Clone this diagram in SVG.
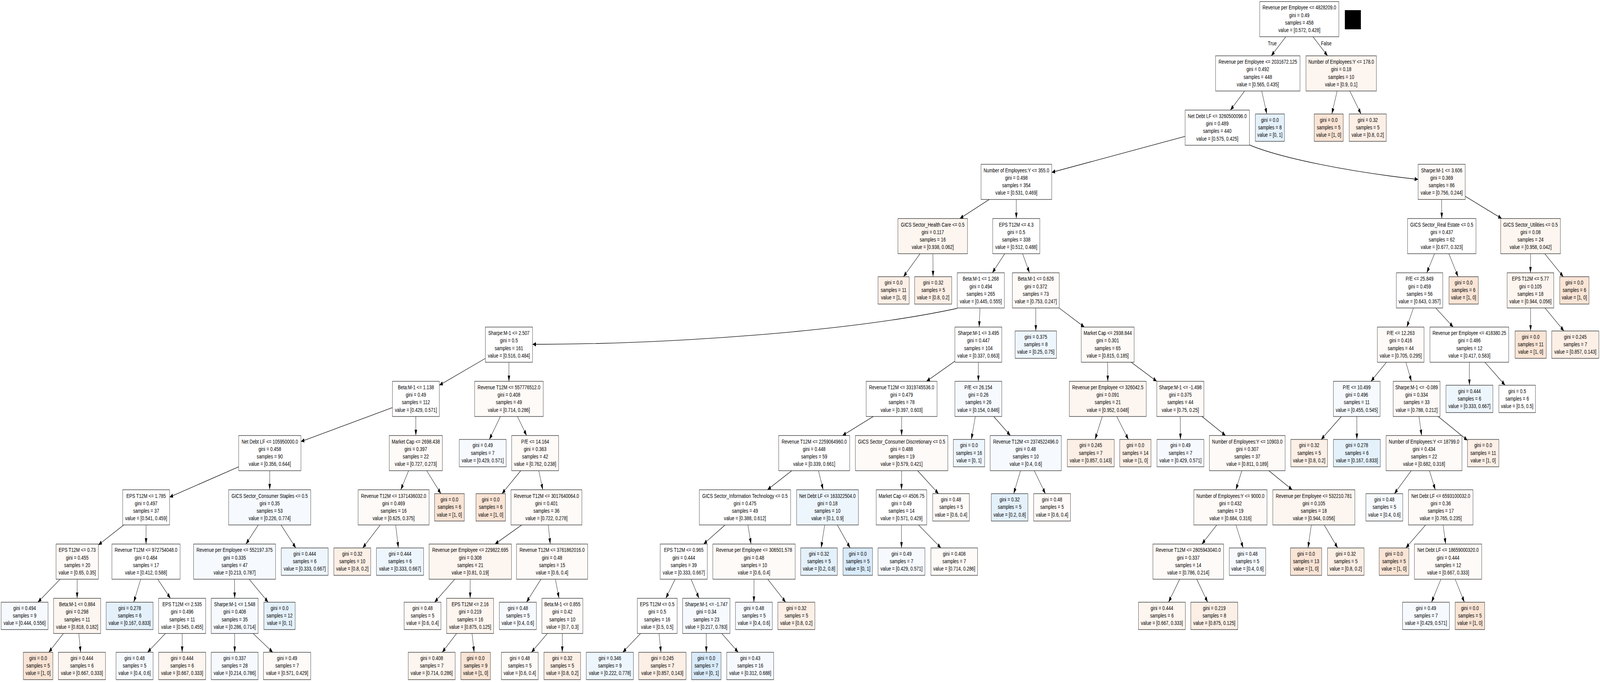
<svg xmlns="http://www.w3.org/2000/svg" width="6992" height="1745" viewBox="0 0 6992 1745" preserveAspectRatio="none" style="width:100%;height:100%">
<defs>
<style>
.n rect{stroke:#3a3a3a;stroke-width:1.4}
text{font-family:"Liberation Sans",Arial,Helvetica,sans-serif;font-size:15px;text-anchor:middle;fill:#000}
.w{fill:#ffffff}.o1{fill:#fefaf7}.o2{fill:#fdf5ef}.o3{fill:#fcefe6}.o4{fill:#f9e4d5}.b1{fill:#f6fafe}.b2{fill:#eef6fd}.b3{fill:#e4f1fb}.b4{fill:#d9ebfa}
#edges path{fill:none;stroke:#000;stroke-width:1.3;marker-end:url(#ah)}
</style>
<marker id="ah" viewBox="0 0 15 11" refX="15" refY="5.5" markerWidth="15" markerHeight="11" orient="auto" markerUnits="userSpaceOnUse"><path d="M0,0 L15,5.5 L0,11 z" fill="#000"/></marker>
</defs>
<rect x="0" y="0" width="6992" height="1745" fill="#ffffff"/>
<rect id="redaction" x="5877" y="26" width="70" height="49" fill="#000"/>

<g id="edges">
<path d="M5619.2,94 L5555.3,142.8"/>
<path d="M5737.3,94 L5801.7,142.8"/>
<path d="M5439.1,232.8 L5376.9,281.6"/>
<path d="M5513.7,232.8 L5536.1,291.6"/>
<path d="M5843.3,232.8 L5820.2,291.6"/>
<path d="M5898.6,232.8 L5947.7,291.6"/>
<path d="M5179,348.8 L4596,441"/>
<path d="M5460,371 C5600,405 5900,440 6197,459"/>
<path d="M4323,510.4 L4194.5,559.2"/>
<path d="M4441.3,510.4 L4441.2,559.2"/>
<path d="M6300,510.4 L6300.5,559.2"/>
<path d="M6403,502.2 L6562.5,559.2"/>
<path d="M4020.6,649.2 L3948.1,708"/>
<path d="M4076.6,649.2 L4077.5,708"/>
<path d="M4390.7,649.2 L4336.3,698"/>
<path d="M4468.7,649.2 L4498.8,698"/>
<path d="M6269.1,649.2 L6234.9,698"/>
<path d="M6331.5,649.2 L6371.9,708"/>
<path d="M6688.5,649.2 L6688,698"/>
<path d="M6750.6,649.2 L6831.7,708"/>
<path d="M4183,789 C3700,850 2900,881 2327,881"/>
<path d="M4282.6,788 L4278.9,836.8"/>
<path d="M4526.5,788 L4526.5,846.8"/>
<path d="M4628.3,788 L4738.7,836.8"/>
<path d="M6176.8,788 L6147.7,836.8"/>
<path d="M6274,788 L6350.5,836.8"/>
<path d="M6688.3,788 L6688.7,846.8"/>
<path d="M6751.5,788 L6834.6,846.8"/>
<path d="M2121,917 L1920,985.6"/>
<path d="M2224,926.8 L2224,975.6"/>
<path d="M4173,924.2 L4048.8,975.6"/>
<path d="M4275.5,926.8 L4275.5,975.6"/>
<path d="M4840.6,926.8 L4840.9,975.6"/>
<path d="M4943.4,926.8 L5055.1,975.6"/>
<path d="M6058.8,926.8 L5991.2,975.6"/>
<path d="M6143.5,926.8 L6168,975.6"/>
<path d="M6421,926.8 L6421.4,985.6"/>
<path d="M6488.8,926.8 L6577.3,985.6"/>
<path d="M1715,1042.9 L1315,1129.8"/>
<path d="M1817.3,1065.6 L1817.2,1114.4"/>
<path d="M2186.9,1065.6 L2138.4,1124.4"/>
<path d="M2261.1,1065.6 L2301.4,1114.4"/>
<path d="M3816.2,1065.6 L3681.8,1114.4"/>
<path d="M3940,1065.6 L3940,1114.4"/>
<path d="M4262.2,1065.6 L4244.8,1124.4"/>
<path d="M4342.6,1065.6 L4415.4,1114.4"/>
<path d="M4816.8,1065.6 L4785.3,1124.4"/>
<path d="M4880.1,1065.6 L4931.1,1124.4"/>
<path d="M5158,1065.6 L5158.5,1124.4"/>
<path d="M5252.8,1065.6 L5355.7,1114.4"/>
<path d="M5861.6,1065.6 L5773.5,1124.4"/>
<path d="M5929,1065.6 L5929.5,1124.4"/>
<path d="M6201,1065.6 L6212.5,1114.4"/>
<path d="M6284.8,1065.6 L6413,1126.7"/>
<path d="M1043,1194.3 L741,1271.9"/>
<path d="M1179,1204.4 L1178.5,1253.2"/>
<path d="M1785.6,1204.4 L1751.4,1253.2"/>
<path d="M1864.7,1204.4 L1926.9,1263.2"/>
<path d="M2275.6,1204.4 L2193.4,1263.2"/>
<path d="M2354.5,1204.4 L2372,1253.2"/>
<path d="M3459.9,1204.4 L3353.6,1253.2"/>
<path d="M3576.8,1204.4 L3597.2,1253.2"/>
<path d="M3940,1204.4 L3939.5,1253.2"/>
<path d="M4010,1204.4 L4101.5,1263.2"/>
<path d="M4459.6,1204.4 L4429.8,1263.2"/>
<path d="M4519.8,1204.4 L4568.5,1263.2"/>
<path d="M5426.7,1204.4 L5400.8,1253.2"/>
<path d="M5544.8,1204.4 L5647.2,1253.2"/>
<path d="M6166.8,1204.4 L6093.3,1263.2"/>
<path d="M6246.7,1204.4 L6272.3,1253.2"/>
<path d="M540.9,1343.2 L430,1394.3"/>
<path d="M638.3,1343.2 L638.2,1392"/>
<path d="M1128.7,1343.2 L1074.8,1392"/>
<path d="M1228.1,1343.2 L1292.9,1402"/>
<path d="M1661.5,1343.2 L1585,1402"/>
<path d="M1729.1,1343.2 L1740.9,1402"/>
<path d="M2280,1343.2 L2163,1392"/>
<path d="M2395.9,1343.2 L2404.6,1392"/>
<path d="M3168.8,1343.2 L3074.7,1392"/>
<path d="M3268.3,1343.2 L3282.2,1392"/>
<path d="M3604,1343.2 L3588.3,1402"/>
<path d="M3659,1343.2 L3715.1,1402"/>
<path d="M3939.5,1343.2 L3939.5,1402"/>
<path d="M4014.2,1343.2 L4111.9,1402"/>
<path d="M5317.2,1343.2 L5252.3,1392"/>
<path d="M5401.2,1343.2 L5432.7,1402"/>
<path d="M5730.5,1343.2 L5716.1,1402"/>
<path d="M5786.7,1343.2 L5845.8,1402"/>
<path d="M6229.9,1343.2 L6143.4,1402"/>
<path d="M6306.4,1343.2 L6317.6,1392"/>
<path d="M262.9,1482 L165.5,1540.8"/>
<path d="M337.5,1482 L337,1530.8"/>
<path d="M614.8,1482 L584.5,1540.8"/>
<path d="M689.2,1482 L744.8,1530.8"/>
<path d="M1025,1482 L1025.5,1530.8"/>
<path d="M1088.7,1482 L1171.9,1540.8"/>
<path d="M1987.4,1482 L1899.1,1540.8"/>
<path d="M2055,1482 L2054.5,1530.8"/>
<path d="M2364,1482 L2300.7,1540.8"/>
<path d="M2427.1,1482 L2442.9,1530.8"/>
<path d="M2950.4,1482 L2909.6,1530.8"/>
<path d="M3019.9,1482 L3054.6,1530.8"/>
<path d="M3295,1482 L3294.5,1540.8"/>
<path d="M3355,1482 L3433.3,1540.8"/>
<path d="M5155.2,1482 L5106.5,1540.8"/>
<path d="M5229.5,1482 L5277.7,1540.8"/>
<path d="M6296.7,1482 L6255.8,1540.8"/>
<path d="M6359,1482 L6399.4,1540.8"/>
<path d="M277.2,1620.8 L213,1669"/>
<path d="M344.4,1620.8 L352.3,1669"/>
<path d="M723,1620.8 L644.8,1669"/>
<path d="M796,1620.8 L796,1669"/>
<path d="M1025.5,1620.8 L1025.5,1669"/>
<path d="M1105.9,1620.8 L1192,1669"/>
<path d="M1995.5,1620.8 L1932.4,1669"/>
<path d="M2062.9,1620.8 L2071.9,1669"/>
<path d="M2392.2,1620.8 L2322.3,1669"/>
<path d="M2457.5,1620.8 L2457,1669"/>
<path d="M2799.3,1620.8 L2721.5,1669"/>
<path d="M2879.9,1620.8 L2888.4,1669"/>
<path d="M3086.5,1620.8 L3086.5,1669"/>
<path d="M3153.9,1620.8 L3226.1,1669"/>
</g>
<g id="edge-labels">
<text transform="matrix(1.27 0 0 1 5560 0)" x="0" y="116">True</text>
<text transform="matrix(1.27 0 0 1 5796 0)" x="0" y="116">False</text>
</g>

<g id="n0" class="n"><rect class="w" x="5505" y="4" width="346" height="90"/><text transform="matrix(1.27 0 0 1 5678 0)"><tspan x="0" y="24.5">Revenue per Employee &lt;= 4828209.0</tspan><tspan x="0" dy="19.2">gini = 0.49</tspan><tspan x="0" dy="19.2">samples = 458</tspan><tspan x="0" dy="19.2">value = [0.572, 0.428]</tspan></text></g>
<g id="n1" class="n"><rect class="w" x="5312" y="142.8" width="369" height="90"/><text transform="matrix(1.27 0 0 1 5496.5 0)"><tspan x="0" y="163.3">Revenue per Employee &lt;= 2031672.125</tspan><tspan x="0" dy="19.2">gini = 0.492</tspan><tspan x="0" dy="19.2">samples = 448</tspan><tspan x="0" dy="19.2">value = [0.565, 0.435]</tspan></text></g>
<g id="n2" class="n"><rect class="o2" x="5707" y="142.8" width="308" height="90"/><text transform="matrix(1.27 0 0 1 5861 0)"><tspan x="0" y="163.3">Number of Employees:Y &lt;= 178.0</tspan><tspan x="0" dy="19.2">gini = 0.18</tspan><tspan x="0" dy="19.2">samples = 10</tspan><tspan x="0" dy="19.2">value = [0.9, 0.1]</tspan></text></g>
<g id="n3" class="n"><rect class="w" x="5179" y="281.6" width="281" height="90"/><text transform="matrix(1.27 0 0 1 5319.5 0)"><tspan x="0" y="302.1">Net Debt LF &lt;= 3260500096.0</tspan><tspan x="0" dy="19.2">gini = 0.489</tspan><tspan x="0" dy="19.2">samples = 440</tspan><tspan x="0" dy="19.2">value = [0.575, 0.425]</tspan></text></g>
<g id="n4" class="n"><rect class="b3" x="5486" y="291.6" width="127" height="70"/><text transform="matrix(1.27 0 0 1 5549.5 0)"><tspan x="0" y="311.6">gini = 0.0</tspan><tspan x="0" dy="19.2">samples = 8</tspan><tspan x="0" dy="19.2">value = [0, 1]</tspan></text></g>
<g id="n5" class="n"><rect class="o4" x="5743" y="291.6" width="127" height="70"/><text transform="matrix(1.27 0 0 1 5806.5 0)"><tspan x="0" y="311.6">gini = 0.0</tspan><tspan x="0" dy="19.2">samples = 5</tspan><tspan x="0" dy="19.2">value = [1, 0]</tspan></text></g>
<g id="n6" class="n"><rect class="o3" x="5896" y="291.6" width="162" height="70"/><text transform="matrix(1.27 0 0 1 5977 0)"><tspan x="0" y="311.6">gini = 0.32</tspan><tspan x="0" dy="19.2">samples = 5</tspan><tspan x="0" dy="19.2">value = [0.8, 0.2]</tspan></text></g>
<g id="n7" class="n"><rect class="w" x="4287" y="420.4" width="309" height="90"/><text transform="matrix(1.27 0 0 1 4441.5 0)"><tspan x="0" y="440.9">Number of Employees:Y &lt;= 355.0</tspan><tspan x="0" dy="19.2">gini = 0.498</tspan><tspan x="0" dy="19.2">samples = 354</tspan><tspan x="0" dy="19.2">value = [0.531, 0.469]</tspan></text></g>
<g id="n8" class="n"><rect class="o1" x="6197" y="420.4" width="206" height="90"/><text transform="matrix(1.27 0 0 1 6300 0)"><tspan x="0" y="440.9">Sharpe:M-1 &lt;= 3.606</tspan><tspan x="0" dy="19.2">gini = 0.369</tspan><tspan x="0" dy="19.2">samples = 86</tspan><tspan x="0" dy="19.2">value = [0.756, 0.244]</tspan></text></g>
<g id="n9" class="n"><rect class="o2" x="3924" y="559.2" width="304" height="90"/><text transform="matrix(1.27 0 0 1 4076 0)"><tspan x="0" y="579.7">GICS Sector_Health Care &lt;= 0.5</tspan><tspan x="0" dy="19.2">gini = 0.117</tspan><tspan x="0" dy="19.2">samples = 16</tspan><tspan x="0" dy="19.2">value = [0.938, 0.062]</tspan></text></g>
<g id="n10" class="n"><rect class="w" x="4338" y="559.2" width="206" height="90"/><text transform="matrix(1.27 0 0 1 4441 0)"><tspan x="0" y="579.7">EPS T12M &lt;= 4.3</tspan><tspan x="0" dy="19.2">gini = 0.5</tspan><tspan x="0" dy="19.2">samples = 338</tspan><tspan x="0" dy="19.2">value = [0.512, 0.488]</tspan></text></g>
<g id="n11" class="n"><rect class="w" x="6151" y="559.2" width="299" height="90"/><text transform="matrix(1.27 0 0 1 6300.5 0)"><tspan x="0" y="579.7">GICS Sector_Real Estate &lt;= 0.5</tspan><tspan x="0" dy="19.2">gini = 0.437</tspan><tspan x="0" dy="19.2">samples = 62</tspan><tspan x="0" dy="19.2">value = [0.677, 0.323]</tspan></text></g>
<g id="n12" class="n"><rect class="o2" x="6558" y="559.2" width="261" height="90"/><text transform="matrix(1.27 0 0 1 6688.5 0)"><tspan x="0" y="579.7">GICS Sector_Utilities &lt;= 0.5</tspan><tspan x="0" dy="19.2">gini = 0.08</tspan><tspan x="0" dy="19.2">samples = 24</tspan><tspan x="0" dy="19.2">value = [0.958, 0.042]</tspan></text></g>
<g id="n13" class="n"><rect class="o3" x="3837" y="708" width="136" height="70"/><text transform="matrix(1.27 0 0 1 3905 0)"><tspan x="0" y="728">gini = 0.0</tspan><tspan x="0" dy="19.2">samples = 11</tspan><tspan x="0" dy="19.2">value = [1, 0]</tspan></text></g>
<g id="n14" class="n"><rect class="o3" x="3997" y="708" width="162" height="70"/><text transform="matrix(1.27 0 0 1 4078 0)"><tspan x="0" y="728">gini = 0.32</tspan><tspan x="0" dy="19.2">samples = 5</tspan><tspan x="0" dy="19.2">value = [0.8, 0.2]</tspan></text></g>
<g id="n15" class="n"><rect class="w" x="4183" y="698" width="206" height="90"/><text transform="matrix(1.27 0 0 1 4286 0)"><tspan x="0" y="718.5">Beta:M-1 &lt;= 1.268</tspan><tspan x="0" dy="19.2">gini = 0.494</tspan><tspan x="0" dy="19.2">samples = 265</tspan><tspan x="0" dy="19.2">value = [0.445, 0.555]</tspan></text></g>
<g id="n16" class="n"><rect class="o1" x="4424" y="698" width="205" height="90"/><text transform="matrix(1.27 0 0 1 4526.5 0)"><tspan x="0" y="718.5">Beta:M-1 &lt;= 0.626</tspan><tspan x="0" dy="19.2">gini = 0.372</tspan><tspan x="0" dy="19.2">samples = 73</tspan><tspan x="0" dy="19.2">value = [0.753, 0.247]</tspan></text></g>
<g id="n17" class="n"><rect class="w" x="6102" y="698" width="203" height="90"/><text transform="matrix(1.27 0 0 1 6203.5 0)"><tspan x="0" y="718.5">P/E &lt;= 25.849</tspan><tspan x="0" dy="19.2">gini = 0.459</tspan><tspan x="0" dy="19.2">samples = 56</tspan><tspan x="0" dy="19.2">value = [0.643, 0.357]</tspan></text></g>
<g id="n18" class="n"><rect class="o4" x="6332" y="708" width="128" height="70"/><text transform="matrix(1.27 0 0 1 6396 0)"><tspan x="0" y="728">gini = 0.0</tspan><tspan x="0" dy="19.2">samples = 6</tspan><tspan x="0" dy="19.2">value = [1, 0]</tspan></text></g>
<g id="n19" class="n"><rect class="o2" x="6586" y="698" width="204" height="90"/><text transform="matrix(1.27 0 0 1 6688 0)"><tspan x="0" y="718.5">EPS T12M &lt;= 5.77</tspan><tspan x="0" dy="19.2">gini = 0.105</tspan><tspan x="0" dy="19.2">samples = 18</tspan><tspan x="0" dy="19.2">value = [0.944, 0.056]</tspan></text></g>
<g id="n20" class="n"><rect class="o4" x="6816" y="708" width="128" height="70"/><text transform="matrix(1.27 0 0 1 6880 0)"><tspan x="0" y="728">gini = 0.0</tspan><tspan x="0" dy="19.2">samples = 6</tspan><tspan x="0" dy="19.2">value = [1, 0]</tspan></text></g>
<g id="n21" class="n"><rect class="w" x="2121" y="836.8" width="206" height="90"/><text transform="matrix(1.27 0 0 1 2224 0)"><tspan x="0" y="857.3">Sharpe:M-1 &lt;= 2.507</tspan><tspan x="0" dy="19.2">gini = 0.5</tspan><tspan x="0" dy="19.2">samples = 161</tspan><tspan x="0" dy="19.2">value = [0.516, 0.484]</tspan></text></g>
<g id="n22" class="n"><rect class="w" x="4173" y="836.8" width="205" height="90"/><text transform="matrix(1.27 0 0 1 4275.5 0)"><tspan x="0" y="857.3">Sharpe:M-1 &lt;= 3.495</tspan><tspan x="0" dy="19.2">gini = 0.447</tspan><tspan x="0" dy="19.2">samples = 104</tspan><tspan x="0" dy="19.2">value = [0.337, 0.663]</tspan></text></g>
<g id="n23" class="n"><rect class="b2" x="4436" y="846.8" width="181" height="70"/><text transform="matrix(1.27 0 0 1 4526.5 0)"><tspan x="0" y="866.8">gini = 0.375</tspan><tspan x="0" dy="19.2">samples = 8</tspan><tspan x="0" dy="19.2">value = [0.25, 0.75]</tspan></text></g>
<g id="n24" class="n"><rect class="o1" x="4725" y="836.8" width="231" height="90"/><text transform="matrix(1.27 0 0 1 4840.5 0)"><tspan x="0" y="857.3">Market Cap &lt;= 2938.844</tspan><tspan x="0" dy="19.2">gini = 0.301</tspan><tspan x="0" dy="19.2">samples = 65</tspan><tspan x="0" dy="19.2">value = [0.815, 0.185]</tspan></text></g>
<g id="n25" class="n"><rect class="o1" x="6019" y="836.8" width="204" height="90"/><text transform="matrix(1.27 0 0 1 6121 0)"><tspan x="0" y="857.3">P/E &lt;= 12.263</tspan><tspan x="0" dy="19.2">gini = 0.416</tspan><tspan x="0" dy="19.2">samples = 44</tspan><tspan x="0" dy="19.2">value = [0.705, 0.295]</tspan></text></g>
<g id="n26" class="n"><rect class="w" x="6249" y="836.8" width="344" height="90"/><text transform="matrix(1.27 0 0 1 6421 0)"><tspan x="0" y="857.3">Revenue per Employee &lt;= 418380.25</tspan><tspan x="0" dy="19.2">gini = 0.486</tspan><tspan x="0" dy="19.2">samples = 12</tspan><tspan x="0" dy="19.2">value = [0.417, 0.583]</tspan></text></g>
<g id="n27" class="n"><rect class="o4" x="6621" y="846.8" width="136" height="70"/><text transform="matrix(1.27 0 0 1 6689 0)"><tspan x="0" y="866.8">gini = 0.0</tspan><tspan x="0" dy="19.2">samples = 11</tspan><tspan x="0" dy="19.2">value = [1, 0]</tspan></text></g>
<g id="n28" class="n"><rect class="o3" x="6781" y="846.8" width="206" height="70"/><text transform="matrix(1.27 0 0 1 6884 0)"><tspan x="0" y="866.8">gini = 0.245</tspan><tspan x="0" dy="19.2">samples = 7</tspan><tspan x="0" dy="19.2">value = [0.857, 0.143]</tspan></text></g>
<g id="n29" class="n"><rect class="w" x="1715" y="975.6" width="205" height="90"/><text transform="matrix(1.27 0 0 1 1817.5 0)"><tspan x="0" y="996.1">Beta:M-1 &lt;= 1.138</tspan><tspan x="0" dy="19.2">gini = 0.49</tspan><tspan x="0" dy="19.2">samples = 112</tspan><tspan x="0" dy="19.2">value = [0.429, 0.571]</tspan></text></g>
<g id="n30" class="n"><rect class="o1" x="2074" y="975.6" width="300" height="90"/><text transform="matrix(1.27 0 0 1 2224 0)"><tspan x="0" y="996.1">Revenue T12M &lt;= 557776512.0</tspan><tspan x="0" dy="19.2">gini = 0.408</tspan><tspan x="0" dy="19.2">samples = 49</tspan><tspan x="0" dy="19.2">value = [0.714, 0.286]</tspan></text></g>
<g id="n31" class="n"><rect class="w" x="3785" y="975.6" width="310" height="90"/><text transform="matrix(1.27 0 0 1 3940 0)"><tspan x="0" y="996.1">Revenue T12M &lt;= 3319745536.0</tspan><tspan x="0" dy="19.2">gini = 0.479</tspan><tspan x="0" dy="19.2">samples = 78</tspan><tspan x="0" dy="19.2">value = [0.397, 0.603]</tspan></text></g>
<g id="n32" class="n"><rect class="b1" x="4173" y="975.6" width="205" height="90"/><text transform="matrix(1.27 0 0 1 4275.5 0)"><tspan x="0" y="996.1">P/E &lt;= 26.154</tspan><tspan x="0" dy="19.2">gini = 0.26</tspan><tspan x="0" dy="19.2">samples = 26</tspan><tspan x="0" dy="19.2">value = [0.154, 0.846]</tspan></text></g>
<g id="n33" class="n"><rect class="o2" x="4673" y="975.6" width="336" height="90"/><text transform="matrix(1.27 0 0 1 4841 0)"><tspan x="0" y="996.1">Revenue per Employee &lt;= 326042.5</tspan><tspan x="0" dy="19.2">gini = 0.091</tspan><tspan x="0" dy="19.2">samples = 21</tspan><tspan x="0" dy="19.2">value = [0.952, 0.048]</tspan></text></g>
<g id="n34" class="n"><rect class="o1" x="5055" y="975.6" width="206" height="90"/><text transform="matrix(1.27 0 0 1 5158 0)"><tspan x="0" y="996.1">Sharpe:M-1 &lt;= -1.498</tspan><tspan x="0" dy="19.2">gini = 0.375</tspan><tspan x="0" dy="19.2">samples = 44</tspan><tspan x="0" dy="19.2">value = [0.75, 0.25]</tspan></text></g>
<g id="n35" class="n"><rect class="b1" x="5827" y="975.6" width="204" height="90"/><text transform="matrix(1.27 0 0 1 5929 0)"><tspan x="0" y="996.1">P/E &lt;= 10.499</tspan><tspan x="0" dy="19.2">gini = 0.496</tspan><tspan x="0" dy="19.2">samples = 11</tspan><tspan x="0" dy="19.2">value = [0.455, 0.545]</tspan></text></g>
<g id="n36" class="n"><rect class="o1" x="6088" y="975.6" width="205" height="90"/><text transform="matrix(1.27 0 0 1 6190.5 0)"><tspan x="0" y="996.1">Sharpe:M-1 &lt;= -0.089</tspan><tspan x="0" dy="19.2">gini = 0.334</tspan><tspan x="0" dy="19.2">samples = 33</tspan><tspan x="0" dy="19.2">value = [0.788, 0.212]</tspan></text></g>
<g id="n37" class="n"><rect class="b2" x="6319" y="985.6" width="205" height="70"/><text transform="matrix(1.27 0 0 1 6421.5 0)"><tspan x="0" y="1005.6">gini = 0.444</tspan><tspan x="0" dy="19.2">samples = 6</tspan><tspan x="0" dy="19.2">value = [0.333, 0.667]</tspan></text></g>
<g id="n38" class="n"><rect class="w" x="6550" y="985.6" width="160" height="70"/><text transform="matrix(1.27 0 0 1 6630 0)"><tspan x="0" y="1005.6">gini = 0.5</tspan><tspan x="0" dy="19.2">samples = 6</tspan><tspan x="0" dy="19.2">value = [0.5, 0.5]</tspan></text></g>
<g id="n39" class="n"><rect class="w" x="1043" y="1114.4" width="272" height="90"/><text transform="matrix(1.27 0 0 1 1179 0)"><tspan x="0" y="1134.9">Net Debt LF &lt;= 105950000.0</tspan><tspan x="0" dy="19.2">gini = 0.458</tspan><tspan x="0" dy="19.2">samples = 90</tspan><tspan x="0" dy="19.2">value = [0.356, 0.644]</tspan></text></g>
<g id="n40" class="n"><rect class="o1" x="1701" y="1114.4" width="232" height="90"/><text transform="matrix(1.27 0 0 1 1817 0)"><tspan x="0" y="1134.9">Market Cap &lt;= 2698.438</tspan><tspan x="0" dy="19.2">gini = 0.397</tspan><tspan x="0" dy="19.2">samples = 22</tspan><tspan x="0" dy="19.2">value = [0.727, 0.273]</tspan></text></g>
<g id="n41" class="n"><rect class="b1" x="2007" y="1124.4" width="205" height="70"/><text transform="matrix(1.27 0 0 1 2109.5 0)"><tspan x="0" y="1144.4">gini = 0.49</tspan><tspan x="0" dy="19.2">samples = 7</tspan><tspan x="0" dy="19.2">value = [0.429, 0.571]</tspan></text></g>
<g id="n42" class="n"><rect class="o1" x="2236" y="1114.4" width="205" height="90"/><text transform="matrix(1.27 0 0 1 2338.5 0)"><tspan x="0" y="1134.9">P/E &lt;= 14.164</tspan><tspan x="0" dy="19.2">gini = 0.363</tspan><tspan x="0" dy="19.2">samples = 42</tspan><tspan x="0" dy="19.2">value = [0.762, 0.238]</tspan></text></g>
<g id="n43" class="n"><rect class="w" x="3403" y="1114.4" width="310" height="90"/><text transform="matrix(1.27 0 0 1 3558 0)"><tspan x="0" y="1134.9">Revenue T12M &lt;= 2259064960.0</tspan><tspan x="0" dy="19.2">gini = 0.448</tspan><tspan x="0" dy="19.2">samples = 59</tspan><tspan x="0" dy="19.2">value = [0.339, 0.661]</tspan></text></g>
<g id="n44" class="n"><rect class="o1" x="3738" y="1114.4" width="404" height="90"/><text transform="matrix(1.27 0 0 1 3940 0)"><tspan x="0" y="1134.9">GICS Sector_Consumer Discretionary &lt;= 0.5</tspan><tspan x="0" dy="19.2">gini = 0.488</tspan><tspan x="0" dy="19.2">samples = 19</tspan><tspan x="0" dy="19.2">value = [0.579, 0.421]</tspan></text></g>
<g id="n45" class="n"><rect class="b2" x="4166" y="1124.4" width="137" height="70"/><text transform="matrix(1.27 0 0 1 4234.5 0)"><tspan x="0" y="1144.4">gini = 0.0</tspan><tspan x="0" dy="19.2">samples = 16</tspan><tspan x="0" dy="19.2">value = [0, 1]</tspan></text></g>
<g id="n46" class="n"><rect class="b1" x="4327" y="1114.4" width="311" height="90"/><text transform="matrix(1.27 0 0 1 4482.5 0)"><tspan x="0" y="1134.9">Revenue T12M &lt;= 2374522496.0</tspan><tspan x="0" dy="19.2">gini = 0.48</tspan><tspan x="0" dy="19.2">samples = 10</tspan><tspan x="0" dy="19.2">value = [0.4, 0.6]</tspan></text></g>
<g id="n47" class="n"><rect class="o3" x="4664" y="1124.4" width="205" height="70"/><text transform="matrix(1.27 0 0 1 4766.5 0)"><tspan x="0" y="1144.4">gini = 0.245</tspan><tspan x="0" dy="19.2">samples = 7</tspan><tspan x="0" dy="19.2">value = [0.857, 0.143]</tspan></text></g>
<g id="n48" class="n"><rect class="o3" x="4893" y="1124.4" width="137" height="70"/><text transform="matrix(1.27 0 0 1 4961.5 0)"><tspan x="0" y="1144.4">gini = 0.0</tspan><tspan x="0" dy="19.2">samples = 14</tspan><tspan x="0" dy="19.2">value = [1, 0]</tspan></text></g>
<g id="n49" class="n"><rect class="b1" x="5056" y="1124.4" width="205" height="70"/><text transform="matrix(1.27 0 0 1 5158.5 0)"><tspan x="0" y="1144.4">gini = 0.49</tspan><tspan x="0" dy="19.2">samples = 7</tspan><tspan x="0" dy="19.2">value = [0.429, 0.571]</tspan></text></g>
<g id="n50" class="n"><rect class="o1" x="5285" y="1114.4" width="331" height="90"/><text transform="matrix(1.27 0 0 1 5450.5 0)"><tspan x="0" y="1134.9">Number of Employees:Y &lt;= 10903.0</tspan><tspan x="0" dy="19.2">gini = 0.307</tspan><tspan x="0" dy="19.2">samples = 37</tspan><tspan x="0" dy="19.2">value = [0.811, 0.189]</tspan></text></g>
<g id="n51" class="n"><rect class="o3" x="5641" y="1124.4" width="160" height="70"/><text transform="matrix(1.27 0 0 1 5721 0)"><tspan x="0" y="1144.4">gini = 0.32</tspan><tspan x="0" dy="19.2">samples = 5</tspan><tspan x="0" dy="19.2">value = [0.8, 0.2]</tspan></text></g>
<g id="n52" class="n"><rect class="b3" x="5827" y="1124.4" width="205" height="70"/><text transform="matrix(1.27 0 0 1 5929.5 0)"><tspan x="0" y="1144.4">gini = 0.278</tspan><tspan x="0" dy="19.2">samples = 6</tspan><tspan x="0" dy="19.2">value = [0.167, 0.833]</tspan></text></g>
<g id="n53" class="n"><rect class="o1" x="6057" y="1114.4" width="332" height="90"/><text transform="matrix(1.27 0 0 1 6223 0)"><tspan x="0" y="1134.9">Number of Employees:Y &lt;= 18799.0</tspan><tspan x="0" dy="19.2">gini = 0.434</tspan><tspan x="0" dy="19.2">samples = 22</tspan><tspan x="0" dy="19.2">value = [0.682, 0.318]</tspan></text></g>
<g id="n54" class="n"><rect class="o3" x="6413" y="1124.4" width="137" height="70"/><text transform="matrix(1.27 0 0 1 6481.5 0)"><tspan x="0" y="1144.4">gini = 0.0</tspan><tspan x="0" dy="19.2">samples = 11</tspan><tspan x="0" dy="19.2">value = [1, 0]</tspan></text></g>
<g id="n55" class="n"><rect class="w" x="536" y="1253.2" width="205" height="90"/><text transform="matrix(1.27 0 0 1 638.5 0)"><tspan x="0" y="1273.7">EPS T12M &lt;= 1.785</tspan><tspan x="0" dy="19.2">gini = 0.497</tspan><tspan x="0" dy="19.2">samples = 37</tspan><tspan x="0" dy="19.2">value = [0.541, 0.459]</tspan></text></g>
<g id="n56" class="n"><rect class="b1" x="999" y="1253.2" width="359" height="90"/><text transform="matrix(1.27 0 0 1 1178.5 0)"><tspan x="0" y="1273.7">GICS Sector_Consumer Staples &lt;= 0.5</tspan><tspan x="0" dy="19.2">gini = 0.35</tspan><tspan x="0" dy="19.2">samples = 53</tspan><tspan x="0" dy="19.2">value = [0.226, 0.774]</tspan></text></g>
<g id="n57" class="n"><rect class="o1" x="1565" y="1253.2" width="310" height="90"/><text transform="matrix(1.27 0 0 1 1720 0)"><tspan x="0" y="1273.7">Revenue T12M &lt;= 1371436032.0</tspan><tspan x="0" dy="19.2">gini = 0.469</tspan><tspan x="0" dy="19.2">samples = 16</tspan><tspan x="0" dy="19.2">value = [0.625, 0.375]</tspan></text></g>
<g id="n58" class="n"><rect class="o4" x="1899" y="1263.2" width="130" height="70"/><text transform="matrix(1.27 0 0 1 1964 0)"><tspan x="0" y="1283.2">gini = 0.0</tspan><tspan x="0" dy="19.2">samples = 6</tspan><tspan x="0" dy="19.2">value = [1, 0]</tspan></text></g>
<g id="n59" class="n"><rect class="o4" x="2080" y="1263.2" width="129" height="70"/><text transform="matrix(1.27 0 0 1 2144.5 0)"><tspan x="0" y="1283.2">gini = 0.0</tspan><tspan x="0" dy="19.2">samples = 6</tspan><tspan x="0" dy="19.2">value = [1, 0]</tspan></text></g>
<g id="n60" class="n"><rect class="o1" x="2233" y="1253.2" width="310" height="90"/><text transform="matrix(1.27 0 0 1 2388 0)"><tspan x="0" y="1273.7">Revenue T12M &lt;= 3017640064.0</tspan><tspan x="0" dy="19.2">gini = 0.401</tspan><tspan x="0" dy="19.2">samples = 36</tspan><tspan x="0" dy="19.2">value = [0.722, 0.278]</tspan></text></g>
<g id="n61" class="n"><rect class="w" x="3056" y="1253.2" width="399" height="90"/><text transform="matrix(1.27 0 0 1 3255.5 0)"><tspan x="0" y="1273.7">GICS Sector_Information Technology &lt;= 0.5</tspan><tspan x="0" dy="19.2">gini = 0.475</tspan><tspan x="0" dy="19.2">samples = 49</tspan><tspan x="0" dy="19.2">value = [0.388, 0.612]</tspan></text></g>
<g id="n62" class="n"><rect class="b2" x="3481" y="1253.2" width="270" height="90"/><text transform="matrix(1.27 0 0 1 3616 0)"><tspan x="0" y="1273.7">Net Debt LF &lt;= 163322504.0</tspan><tspan x="0" dy="19.2">gini = 0.18</tspan><tspan x="0" dy="19.2">samples = 10</tspan><tspan x="0" dy="19.2">value = [0.1, 0.9]</tspan></text></g>
<g id="n63" class="n"><rect class="w" x="3829" y="1253.2" width="221" height="90"/><text transform="matrix(1.27 0 0 1 3939.5 0)"><tspan x="0" y="1273.7">Market Cap &lt;= 4506.75</tspan><tspan x="0" dy="19.2">gini = 0.49</tspan><tspan x="0" dy="19.2">samples = 14</tspan><tspan x="0" dy="19.2">value = [0.571, 0.429]</tspan></text></g>
<g id="n64" class="n"><rect class="o1" x="4076" y="1263.2" width="160" height="70"/><text transform="matrix(1.27 0 0 1 4156 0)"><tspan x="0" y="1283.2">gini = 0.48</tspan><tspan x="0" dy="19.2">samples = 5</tspan><tspan x="0" dy="19.2">value = [0.6, 0.4]</tspan></text></g>
<g id="n65" class="n"><rect class="b3" x="4332" y="1263.2" width="160" height="70"/><text transform="matrix(1.27 0 0 1 4412 0)"><tspan x="0" y="1283.2">gini = 0.32</tspan><tspan x="0" dy="19.2">samples = 5</tspan><tspan x="0" dy="19.2">value = [0.2, 0.8]</tspan></text></g>
<g id="n66" class="n"><rect class="o1" x="4517" y="1263.2" width="161" height="70"/><text transform="matrix(1.27 0 0 1 4597.5 0)"><tspan x="0" y="1283.2">gini = 0.48</tspan><tspan x="0" dy="19.2">samples = 5</tspan><tspan x="0" dy="19.2">value = [0.6, 0.4]</tspan></text></g>
<g id="n67" class="n"><rect class="o1" x="5217" y="1253.2" width="320" height="90"/><text transform="matrix(1.27 0 0 1 5377 0)"><tspan x="0" y="1273.7">Number of Employees:Y &lt;= 9000.0</tspan><tspan x="0" dy="19.2">gini = 0.432</tspan><tspan x="0" dy="19.2">samples = 19</tspan><tspan x="0" dy="19.2">value = [0.684, 0.316]</tspan></text></g>
<g id="n68" class="n"><rect class="o2" x="5562" y="1253.2" width="359" height="90"/><text transform="matrix(1.27 0 0 1 5741.5 0)"><tspan x="0" y="1273.7">Revenue per Employee &lt;= 532210.781</tspan><tspan x="0" dy="19.2">gini = 0.105</tspan><tspan x="0" dy="19.2">samples = 18</tspan><tspan x="0" dy="19.2">value = [0.944, 0.056]</tspan></text></g>
<g id="n69" class="n"><rect class="b1" x="5969" y="1263.2" width="161" height="70"/><text transform="matrix(1.27 0 0 1 6049.5 0)"><tspan x="0" y="1283.2">gini = 0.48</tspan><tspan x="0" dy="19.2">samples = 5</tspan><tspan x="0" dy="19.2">value = [0.4, 0.6]</tspan></text></g>
<g id="n70" class="n"><rect class="o1" x="6155" y="1253.2" width="282" height="90"/><text transform="matrix(1.27 0 0 1 6296 0)"><tspan x="0" y="1273.7">Net Debt LF &lt;= 6593100032.0</tspan><tspan x="0" dy="19.2">gini = 0.36</tspan><tspan x="0" dy="19.2">samples = 17</tspan><tspan x="0" dy="19.2">value = [0.765, 0.235]</tspan></text></g>
<g id="n71" class="n"><rect class="o1" x="245" y="1392" width="185" height="90"/><text transform="matrix(1.27 0 0 1 337.5 0)"><tspan x="0" y="1412.5">EPS T12M &lt;= 0.73</tspan><tspan x="0" dy="19.2">gini = 0.455</tspan><tspan x="0" dy="19.2">samples = 20</tspan><tspan x="0" dy="19.2">value = [0.65, 0.35]</tspan></text></g>
<g id="n72" class="n"><rect class="w" x="489" y="1392" width="298" height="90"/><text transform="matrix(1.27 0 0 1 638 0)"><tspan x="0" y="1412.5">Revenue T12M &lt;= 972754048.0</tspan><tspan x="0" dy="19.2">gini = 0.484</tspan><tspan x="0" dy="19.2">samples = 17</tspan><tspan x="0" dy="19.2">value = [0.412, 0.588]</tspan></text></g>
<g id="n73" class="n"><rect class="b1" x="846" y="1392" width="358" height="90"/><text transform="matrix(1.27 0 0 1 1025 0)"><tspan x="0" y="1412.5">Revenue per Employee &lt;= 552197.375</tspan><tspan x="0" dy="19.2">gini = 0.335</tspan><tspan x="0" dy="19.2">samples = 47</tspan><tspan x="0" dy="19.2">value = [0.213, 0.787]</tspan></text></g>
<g id="n74" class="n"><rect class="b2" x="1229" y="1402" width="205" height="70"/><text transform="matrix(1.27 0 0 1 1331.5 0)"><tspan x="0" y="1422">gini = 0.444</tspan><tspan x="0" dy="19.2">samples = 6</tspan><tspan x="0" dy="19.2">value = [0.333, 0.667]</tspan></text></g>
<g id="n75" class="n"><rect class="o3" x="1459" y="1402" width="161" height="70"/><text transform="matrix(1.27 0 0 1 1539.5 0)"><tspan x="0" y="1422">gini = 0.32</tspan><tspan x="0" dy="19.2">samples = 10</tspan><tspan x="0" dy="19.2">value = [0.8, 0.2]</tspan></text></g>
<g id="n76" class="n"><rect class="b2" x="1645" y="1402" width="206" height="70"/><text transform="matrix(1.27 0 0 1 1748 0)"><tspan x="0" y="1422">gini = 0.444</tspan><tspan x="0" dy="19.2">samples = 6</tspan><tspan x="0" dy="19.2">value = [0.333, 0.667]</tspan></text></g>
<g id="n77" class="n"><rect class="o2" x="1875" y="1392" width="360" height="90"/><text transform="matrix(1.27 0 0 1 2055 0)"><tspan x="0" y="1412.5">Revenue per Employee &lt;= 229822.695</tspan><tspan x="0" dy="19.2">gini = 0.308</tspan><tspan x="0" dy="19.2">samples = 21</tspan><tspan x="0" dy="19.2">value = [0.81, 0.19]</tspan></text></g>
<g id="n78" class="n"><rect class="o1" x="2257" y="1392" width="311" height="90"/><text transform="matrix(1.27 0 0 1 2412.5 0)"><tspan x="0" y="1412.5">Revenue T12M &lt;= 3761862016.0</tspan><tspan x="0" dy="19.2">gini = 0.48</tspan><tspan x="0" dy="19.2">samples = 15</tspan><tspan x="0" dy="19.2">value = [0.6, 0.4]</tspan></text></g>
<g id="n79" class="n"><rect class="w" x="2885" y="1392" width="206" height="90"/><text transform="matrix(1.27 0 0 1 2988 0)"><tspan x="0" y="1412.5">EPS T12M &lt;= 0.965</tspan><tspan x="0" dy="19.2">gini = 0.444</tspan><tspan x="0" dy="19.2">samples = 39</tspan><tspan x="0" dy="19.2">value = [0.333, 0.667]</tspan></text></g>
<g id="n80" class="n"><rect class="o1" x="3115" y="1392" width="360" height="90"/><text transform="matrix(1.27 0 0 1 3295 0)"><tspan x="0" y="1412.5">Revenue per Employee &lt;= 306501.578</tspan><tspan x="0" dy="19.2">gini = 0.48</tspan><tspan x="0" dy="19.2">samples = 10</tspan><tspan x="0" dy="19.2">value = [0.6, 0.4]</tspan></text></g>
<g id="n81" class="n"><rect class="b3" x="3499" y="1402" width="160" height="70"/><text transform="matrix(1.27 0 0 1 3579 0)"><tspan x="0" y="1422">gini = 0.32</tspan><tspan x="0" dy="19.2">samples = 5</tspan><tspan x="0" dy="19.2">value = [0.2, 0.8]</tspan></text></g>
<g id="n82" class="n"><rect class="b4" x="3684" y="1402" width="129" height="70"/><text transform="matrix(1.27 0 0 1 3748.5 0)"><tspan x="0" y="1422">gini = 0.0</tspan><tspan x="0" dy="19.2">samples = 5</tspan><tspan x="0" dy="19.2">value = [0, 1]</tspan></text></g>
<g id="n83" class="n"><rect class="b1" x="3837" y="1402" width="205" height="70"/><text transform="matrix(1.27 0 0 1 3939.5 0)"><tspan x="0" y="1422">gini = 0.49</tspan><tspan x="0" dy="19.2">samples = 7</tspan><tspan x="0" dy="19.2">value = [0.429, 0.571]</tspan></text></g>
<g id="n84" class="n"><rect class="o1" x="4068" y="1402" width="204" height="70"/><text transform="matrix(1.27 0 0 1 4170 0)"><tspan x="0" y="1422">gini = 0.408</tspan><tspan x="0" dy="19.2">samples = 7</tspan><tspan x="0" dy="19.2">value = [0.714, 0.286]</tspan></text></g>
<g id="n85" class="n"><rect class="o1" x="5038" y="1392" width="309" height="90"/><text transform="matrix(1.27 0 0 1 5192.5 0)"><tspan x="0" y="1412.5">Revenue T12M &lt;= 2805943040.0</tspan><tspan x="0" dy="19.2">gini = 0.337</tspan><tspan x="0" dy="19.2">samples = 14</tspan><tspan x="0" dy="19.2">value = [0.786, 0.214]</tspan></text></g>
<g id="n86" class="n"><rect class="b1" x="5372" y="1402" width="159" height="70"/><text transform="matrix(1.27 0 0 1 5451.5 0)"><tspan x="0" y="1422">gini = 0.48</tspan><tspan x="0" dy="19.2">samples = 5</tspan><tspan x="0" dy="19.2">value = [0.4, 0.6]</tspan></text></g>
<g id="n87" class="n"><rect class="o4" x="5639" y="1402" width="137" height="70"/><text transform="matrix(1.27 0 0 1 5707.5 0)"><tspan x="0" y="1422">gini = 0.0</tspan><tspan x="0" dy="19.2">samples = 13</tspan><tspan x="0" dy="19.2">value = [1, 0]</tspan></text></g>
<g id="n88" class="n"><rect class="o3" x="5801" y="1402" width="160" height="70"/><text transform="matrix(1.27 0 0 1 5881 0)"><tspan x="0" y="1422">gini = 0.32</tspan><tspan x="0" dy="19.2">samples = 5</tspan><tspan x="0" dy="19.2">value = [0.8, 0.2]</tspan></text></g>
<g id="n89" class="n"><rect class="o4" x="6027" y="1402" width="130" height="70"/><text transform="matrix(1.27 0 0 1 6092 0)"><tspan x="0" y="1422">gini = 0.0</tspan><tspan x="0" dy="19.2">samples = 5</tspan><tspan x="0" dy="19.2">value = [1, 0]</tspan></text></g>
<g id="n90" class="n"><rect class="o1" x="6181" y="1392" width="294" height="90"/><text transform="matrix(1.27 0 0 1 6328 0)"><tspan x="0" y="1412.5">Net Debt LF &lt;= 18659000320.0</tspan><tspan x="0" dy="19.2">gini = 0.444</tspan><tspan x="0" dy="19.2">samples = 12</tspan><tspan x="0" dy="19.2">value = [0.667, 0.333]</tspan></text></g>
<g id="n91" class="n"><rect class="b1" x="5" y="1540.8" width="205" height="70"/><text transform="matrix(1.27 0 0 1 107.5 0)"><tspan x="0" y="1560.8">gini = 0.494</tspan><tspan x="0" dy="19.2">samples = 9</tspan><tspan x="0" dy="19.2">value = [0.444, 0.556]</tspan></text></g>
<g id="n92" class="n"><rect class="o2" x="234" y="1530.8" width="206" height="90"/><text transform="matrix(1.27 0 0 1 337 0)"><tspan x="0" y="1551.3">Beta:M-1 &lt;= 0.884</tspan><tspan x="0" dy="19.2">gini = 0.298</tspan><tspan x="0" dy="19.2">samples = 11</tspan><tspan x="0" dy="19.2">value = [0.818, 0.182]</tspan></text></g>
<g id="n93" class="n"><rect class="b3" x="464" y="1540.8" width="205" height="70"/><text transform="matrix(1.27 0 0 1 566.5 0)"><tspan x="0" y="1560.8">gini = 0.278</tspan><tspan x="0" dy="19.2">samples = 6</tspan><tspan x="0" dy="19.2">value = [0.167, 0.833]</tspan></text></g>
<g id="n94" class="n"><rect class="w" x="693" y="1530.8" width="206" height="90"/><text transform="matrix(1.27 0 0 1 796 0)"><tspan x="0" y="1551.3">EPS T12M &lt;= 2.535</tspan><tspan x="0" dy="19.2">gini = 0.496</tspan><tspan x="0" dy="19.2">samples = 11</tspan><tspan x="0" dy="19.2">value = [0.545, 0.455]</tspan></text></g>
<g id="n95" class="n"><rect class="b1" x="923" y="1530.8" width="205" height="90"/><text transform="matrix(1.27 0 0 1 1025.5 0)"><tspan x="0" y="1551.3">Sharpe:M-1 &lt;= 1.548</tspan><tspan x="0" dy="19.2">gini = 0.408</tspan><tspan x="0" dy="19.2">samples = 35</tspan><tspan x="0" dy="19.2">value = [0.286, 0.714]</tspan></text></g>
<g id="n96" class="n"><rect class="b3" x="1153" y="1540.8" width="137" height="70"/><text transform="matrix(1.27 0 0 1 1221.5 0)"><tspan x="0" y="1560.8">gini = 0.0</tspan><tspan x="0" dy="19.2">samples = 12</tspan><tspan x="0" dy="19.2">value = [0, 1]</tspan></text></g>
<g id="n97" class="n"><rect class="o1" x="1766" y="1540.8" width="161" height="70"/><text transform="matrix(1.27 0 0 1 1846.5 0)"><tspan x="0" y="1560.8">gini = 0.48</tspan><tspan x="0" dy="19.2">samples = 5</tspan><tspan x="0" dy="19.2">value = [0.6, 0.4]</tspan></text></g>
<g id="n98" class="n"><rect class="o2" x="1952" y="1530.8" width="205" height="90"/><text transform="matrix(1.27 0 0 1 2054.5 0)"><tspan x="0" y="1551.3">EPS T12M &lt;= 2.16</tspan><tspan x="0" dy="19.2">gini = 0.219</tspan><tspan x="0" dy="19.2">samples = 16</tspan><tspan x="0" dy="19.2">value = [0.875, 0.125]</tspan></text></g>
<g id="n99" class="n"><rect class="b1" x="2182" y="1540.8" width="162" height="70"/><text transform="matrix(1.27 0 0 1 2263 0)"><tspan x="0" y="1560.8">gini = 0.48</tspan><tspan x="0" dy="19.2">samples = 5</tspan><tspan x="0" dy="19.2">value = [0.4, 0.6]</tspan></text></g>
<g id="n100" class="n"><rect class="o1" x="2368" y="1530.8" width="179" height="90"/><text transform="matrix(1.27 0 0 1 2457.5 0)"><tspan x="0" y="1551.3">Beta:M-1 &lt;= 0.855</tspan><tspan x="0" dy="19.2">gini = 0.42</tspan><tspan x="0" dy="19.2">samples = 10</tspan><tspan x="0" dy="19.2">value = [0.7, 0.3]</tspan></text></g>
<g id="n101" class="n"><rect class="w" x="2785" y="1530.8" width="174" height="90"/><text transform="matrix(1.27 0 0 1 2872 0)"><tspan x="0" y="1551.3">EPS T12M &lt;= 0.5</tspan><tspan x="0" dy="19.2">gini = 0.5</tspan><tspan x="0" dy="19.2">samples = 16</tspan><tspan x="0" dy="19.2">value = [0.5, 0.5]</tspan></text></g>
<g id="n102" class="n"><rect class="b1" x="2983" y="1530.8" width="207" height="90"/><text transform="matrix(1.27 0 0 1 3086.5 0)"><tspan x="0" y="1551.3">Sharpe:M-1 &lt;= -1.747</tspan><tspan x="0" dy="19.2">gini = 0.34</tspan><tspan x="0" dy="19.2">samples = 23</tspan><tspan x="0" dy="19.2">value = [0.217, 0.783]</tspan></text></g>
<g id="n103" class="n"><rect class="b1" x="3214" y="1540.8" width="161" height="70"/><text transform="matrix(1.27 0 0 1 3294.5 0)"><tspan x="0" y="1560.8">gini = 0.48</tspan><tspan x="0" dy="19.2">samples = 5</tspan><tspan x="0" dy="19.2">value = [0.4, 0.6]</tspan></text></g>
<g id="n104" class="n"><rect class="o3" x="3399" y="1540.8" width="162" height="70"/><text transform="matrix(1.27 0 0 1 3480 0)"><tspan x="0" y="1560.8">gini = 0.32</tspan><tspan x="0" dy="19.2">samples = 5</tspan><tspan x="0" dy="19.2">value = [0.8, 0.2]</tspan></text></g>
<g id="n105" class="n"><rect class="o2" x="4975" y="1540.8" width="205" height="70"/><text transform="matrix(1.27 0 0 1 5077.5 0)"><tspan x="0" y="1560.8">gini = 0.444</tspan><tspan x="0" dy="19.2">samples = 6</tspan><tspan x="0" dy="19.2">value = [0.667, 0.333]</tspan></text></g>
<g id="n106" class="n"><rect class="o3" x="5204" y="1540.8" width="205" height="70"/><text transform="matrix(1.27 0 0 1 5306.5 0)"><tspan x="0" y="1560.8">gini = 0.219</tspan><tspan x="0" dy="19.2">samples = 8</tspan><tspan x="0" dy="19.2">value = [0.875, 0.125]</tspan></text></g>
<g id="n107" class="n"><rect class="b1" x="6129" y="1540.8" width="205" height="70"/><text transform="matrix(1.27 0 0 1 6231.5 0)"><tspan x="0" y="1560.8">gini = 0.49</tspan><tspan x="0" dy="19.2">samples = 7</tspan><tspan x="0" dy="19.2">value = [0.429, 0.571]</tspan></text></g>
<g id="n108" class="n"><rect class="o4" x="6359" y="1540.8" width="129" height="70"/><text transform="matrix(1.27 0 0 1 6423.5 0)"><tspan x="0" y="1560.8">gini = 0.0</tspan><tspan x="0" dy="19.2">samples = 5</tspan><tspan x="0" dy="19.2">value = [1, 0]</tspan></text></g>
<g id="n109" class="n"><rect class="o4" x="102" y="1669" width="129" height="70"/><text transform="matrix(1.27 0 0 1 166.5 0)"><tspan x="0" y="1689">gini = 0.0</tspan><tspan x="0" dy="19.2">samples = 5</tspan><tspan x="0" dy="19.2">value = [1, 0]</tspan></text></g>
<g id="n110" class="n"><rect class="o2" x="255" y="1669" width="206" height="70"/><text transform="matrix(1.27 0 0 1 358 0)"><tspan x="0" y="1689">gini = 0.444</tspan><tspan x="0" dy="19.2">samples = 6</tspan><tspan x="0" dy="19.2">value = [0.667, 0.333]</tspan></text></g>
<g id="n111" class="n"><rect class="b1" x="507" y="1669" width="162" height="70"/><text transform="matrix(1.27 0 0 1 588 0)"><tspan x="0" y="1689">gini = 0.48</tspan><tspan x="0" dy="19.2">samples = 5</tspan><tspan x="0" dy="19.2">value = [0.4, 0.6]</tspan></text></g>
<g id="n112" class="n"><rect class="o2" x="693" y="1669" width="206" height="70"/><text transform="matrix(1.27 0 0 1 796 0)"><tspan x="0" y="1689">gini = 0.444</tspan><tspan x="0" dy="19.2">samples = 6</tspan><tspan x="0" dy="19.2">value = [0.667, 0.333]</tspan></text></g>
<g id="n113" class="n"><rect class="b1" x="923" y="1669" width="205" height="70"/><text transform="matrix(1.27 0 0 1 1025.5 0)"><tspan x="0" y="1689">gini = 0.337</tspan><tspan x="0" dy="19.2">samples = 28</tspan><tspan x="0" dy="19.2">value = [0.214, 0.786]</tspan></text></g>
<g id="n114" class="n"><rect class="o1" x="1151" y="1669" width="207" height="70"/><text transform="matrix(1.27 0 0 1 1254.5 0)"><tspan x="0" y="1689">gini = 0.49</tspan><tspan x="0" dy="19.2">samples = 7</tspan><tspan x="0" dy="19.2">value = [0.571, 0.429]</tspan></text></g>
<g id="n115" class="n"><rect class="o2" x="1784" y="1669" width="205" height="70"/><text transform="matrix(1.27 0 0 1 1886.5 0)"><tspan x="0" y="1689">gini = 0.408</tspan><tspan x="0" dy="19.2">samples = 7</tspan><tspan x="0" dy="19.2">value = [0.714, 0.286]</tspan></text></g>
<g id="n116" class="n"><rect class="o4" x="2014" y="1669" width="129" height="70"/><text transform="matrix(1.27 0 0 1 2078.5 0)"><tspan x="0" y="1689">gini = 0.0</tspan><tspan x="0" dy="19.2">samples = 9</tspan><tspan x="0" dy="19.2">value = [1, 0]</tspan></text></g>
<g id="n117" class="n"><rect class="o1" x="2191" y="1669" width="161" height="70"/><text transform="matrix(1.27 0 0 1 2271.5 0)"><tspan x="0" y="1689">gini = 0.48</tspan><tspan x="0" dy="19.2">samples = 5</tspan><tspan x="0" dy="19.2">value = [0.6, 0.4]</tspan></text></g>
<g id="n118" class="n"><rect class="o3" x="2377" y="1669" width="160" height="70"/><text transform="matrix(1.27 0 0 1 2457 0)"><tspan x="0" y="1689">gini = 0.32</tspan><tspan x="0" dy="19.2">samples = 5</tspan><tspan x="0" dy="19.2">value = [0.8, 0.2]</tspan></text></g>
<g id="n119" class="n"><rect class="b2" x="2562" y="1669" width="206" height="70"/><text transform="matrix(1.27 0 0 1 2665 0)"><tspan x="0" y="1689">gini = 0.346</tspan><tspan x="0" dy="19.2">samples = 9</tspan><tspan x="0" dy="19.2">value = [0.222, 0.778]</tspan></text></g>
<g id="n120" class="n"><rect class="o3" x="2791" y="1669" width="207" height="70"/><text transform="matrix(1.27 0 0 1 2894.5 0)"><tspan x="0" y="1689">gini = 0.245</tspan><tspan x="0" dy="19.2">samples = 7</tspan><tspan x="0" dy="19.2">value = [0.857, 0.143]</tspan></text></g>
<g id="n121" class="n"><rect class="b4" x="3022" y="1669" width="129" height="70"/><text transform="matrix(1.27 0 0 1 3086.5 0)"><tspan x="0" y="1689">gini = 0.0</tspan><tspan x="0" dy="19.2">samples = 7</tspan><tspan x="0" dy="19.2">value = [0, 1]</tspan></text></g>
<g id="n122" class="n"><rect class="b1" x="3176" y="1669" width="205" height="70"/><text transform="matrix(1.27 0 0 1 3278.5 0)"><tspan x="0" y="1689">gini = 0.43</tspan><tspan x="0" dy="19.2">samples = 16</tspan><tspan x="0" dy="19.2">value = [0.312, 0.688]</tspan></text></g>
</svg>
